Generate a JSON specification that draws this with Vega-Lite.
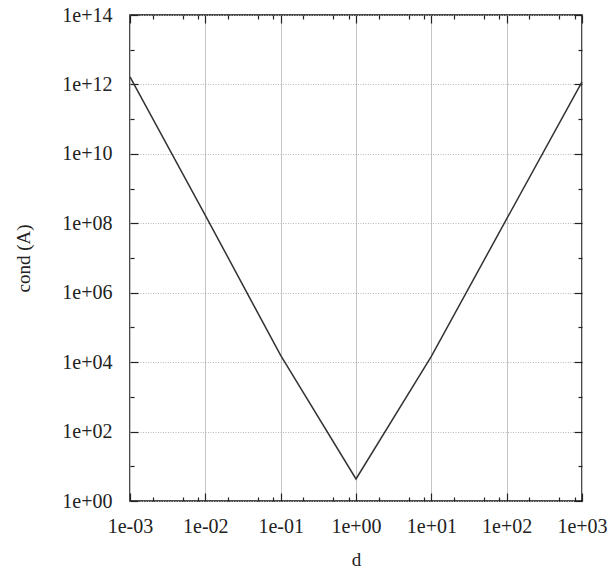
{
  "$schema": "https://vega.github.io/schema/vega-lite/v6.json",
  "autosize": {"type": "none"},
  "padding": {"left": 130, "top": 15, "right": 31, "bottom": 71},
  "width": 452,
  "height": 486,
  "config": {
    "font": "Liberation Serif",
    "view": {"stroke": "#111", "strokeWidth": 1.5},
    "axis": {
      "domain": false,
      "labelFont": "Liberation Serif",
      "labelFontSize": 20,
      "labelColor": "#222",
      "titleFont": "Liberation Serif",
      "titleFontSize": 19,
      "titleFontWeight": "normal",
      "titleColor": "#222",
      "tickColor": "#222",
      "tickWidth": 1.2
    }
  },
  "data": {
    "values": [
      {"d": 0.001, "cond": 1.65e12},
      {"d": 0.01, "cond": 1.7e8},
      {"d": 0.1, "cond": 15600},
      {"d": 1, "cond": 4.3},
      {"d": 10, "cond": 14600},
      {"d": 100, "cond": 1.34e8},
      {"d": 1000, "cond": 1.19e12}
    ]
  },
  "layer": [
    {
      "mark": {"type": "line", "color": "#333", "strokeWidth": 1.5},
      "encoding": {
        "x": {
          "field": "d",
          "type": "quantitative",
          "scale": {"type": "log", "domain": [0.001, 1000]},
          "axis": {
            "orient": "bottom",
            "title": "d",
            "titlePadding": 14,
            "labelPadding": 23,
            "labelFlush": false,
            "values": [0.001, 0.002, 0.005, 0.008, 0.01, 0.02, 0.05, 0.08, 0.1, 0.2, 0.5, 0.8, 1, 2, 5, 8, 10, 20, 50, 80, 100, 200, 500, 800, 1000],
            "labelExpr": "indexof([0.001,0.01,0.1,1,10,100,1000], datum.value) < 0 ? '' : '1e' + (datum.value < 1 ? '-' : '+') + (abs(round(log(datum.value)/LN10)) < 10 ? '0' : '') + abs(round(log(datum.value)/LN10))",
            "grid": true,
            "gridColor": "#c4c4c4",
            "gridWidth": 1,
            "gridOpacity": {"condition": {"test": "indexof([0.001,0.01,0.1,1,10,100,1000], datum.value) < 0", "value": 0}, "value": 1},
            "tickSize": {"condition": {"test": "indexof([0.001,0.01,0.1,1,10,100,1000], datum.value) < 0", "value": -4}, "value": -8}
          }
        },
        "y": {
          "field": "cond",
          "type": "quantitative",
          "scale": {"type": "log", "domain": [1, 1e14]},
          "axis": {
            "orient": "left",
            "title": "cond (A)",
            "titlePadding": 28,
            "labelPadding": 26,
            "labelFlush": false,
            "values": [1, 1e1, 1e2, 1e3, 1e4, 1e5, 1e6, 1e7, 1e8, 1e9, 1e10, 1e11, 1e12, 1e13, 1e14],
            "labelExpr": "round(log(datum.value)/LN10) % 2 == 1 ? '' : '1e+' + (round(log(datum.value)/LN10) < 10 ? '0' : '') + round(log(datum.value)/LN10)",
            "grid": true,
            "gridColor": "#b8b8b8",
            "gridWidth": 1.2,
            "gridDash": [1, 1.5],
            "gridOpacity": {"condition": {"test": "round(log(datum.value)/LN10) % 2 == 1", "value": 0}, "value": 1},
            "tickSize": {"condition": {"test": "round(log(datum.value)/LN10) % 2 == 1", "value": -4}, "value": -8}
          }
        }
      }
    },
    {
      "mark": {"type": "line", "opacity": 0},
      "encoding": {
        "x": {
          "field": "d",
          "type": "quantitative",
          "axis": {
            "orient": "top",
            "title": null,
            "labels": false,
            "grid": false,
            "values": [0.001, 0.002, 0.005, 0.008, 0.01, 0.02, 0.05, 0.08, 0.1, 0.2, 0.5, 0.8, 1, 2, 5, 8, 10, 20, 50, 80, 100, 200, 500, 800, 1000],
            "tickSize": {"condition": {"test": "indexof([0.001,0.01,0.1,1,10,100,1000], datum.value) < 0", "value": -4}, "value": -8}
          }
        },
        "y": {
          "field": "cond",
          "type": "quantitative",
          "axis": {
            "orient": "right",
            "title": null,
            "labels": false,
            "grid": false,
            "values": [1, 1e1, 1e2, 1e3, 1e4, 1e5, 1e6, 1e7, 1e8, 1e9, 1e10, 1e11, 1e12, 1e13, 1e14],
            "tickSize": {"condition": {"test": "round(log(datum.value)/LN10) % 2 == 1", "value": -4}, "value": -8}
          }
        }
      }
    }
  ]
}
